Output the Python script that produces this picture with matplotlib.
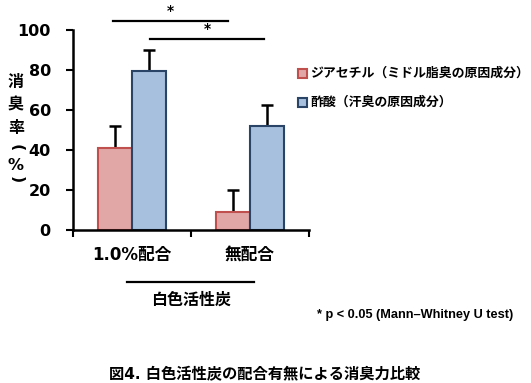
import numpy as np
import matplotlib
matplotlib.use("Agg")
import matplotlib.pyplot as plt
from matplotlib.patches import Rectangle

plt.rcParams['font.family'] = ['DejaVu Sans', 'Noto Sans CJK JP']
plt.rcParams['font.weight'] = 'bold'

categories = ['1.0%配合', '無配合']
series = ['ジアセチル（ミドル脂臭の原因成分）', '酢酸（汗臭の原因成分）']
means = [[41, 9], [79.5, 52]]
errors = [[11, 11], [10.5, 10.5]]
yticks = [0, 20, 40, 60, 80, 100]
ylabel_chars = ['消', '臭', '率', '(', '%', ')']
group_label = '白色活性炭'
note = '* p < 0.05 (Mann–Whitney U test)'
title = '図4. 白色活性炭の配合有無による消臭力比較'

fills = ['#E0A7A6', '#A7C0DE']
edges = ['#C0504D', '#2A4468']

fig = plt.figure(figsize=(5.31, 3.83), dpi=100)
ax = fig.add_axes([0.1375, 0.3995, 0.4444, 0.522])

x = np.arange(len(categories))
w = 0.29
for i in range(2):
    off = (i - 0.5) * w
    ax.bar(x + off, means[i], w, color=fills[i], edgecolor=edges[i], linewidth=1.5, zorder=2)
    ax.errorbar(x + off, means[i], yerr=[[0, 0], errors[i]], fmt='none', ecolor='black',
                elinewidth=1.8, capsize=4, capthick=1.8, zorder=1)

ax.set_xlim(-0.5, 1.5)
ax.set_ylim(0, 100)
ax.set_yticks(yticks)
ax.tick_params(axis='y', labelsize=11.5, width=1.5, length=5, pad=11, direction='out')
ax.set_xticks([-0.5, 0.5, 1.5])
ax.set_xticklabels([])
ax.tick_params(axis='x', width=1.5, length=5, direction='out')
for s in ['top', 'right']:
    ax.spines[s].set_visible(False)
for s in ['left', 'bottom']:
    ax.spines[s].set_linewidth(1.8)
for lab in ax.get_yticklabels():
    lab.set_fontweight('bold')

for xi, c in zip(x, categories):
    ax.text(xi, -12.5, c, ha='center', va='center', fontsize=12, fontweight='bold')

# significance bars
sig = [(-0.16, 0.81, 104.5), (0.15, 1.12, 95.5)]
for x0, x1, yy in sig:
    ax.plot([x0, x1], [yy, yy], color='black', lw=1.6, clip_on=False)
    ax.text((x0 + x1) / 2, yy + 1.5, '*', ha='center', va='bottom', fontsize=10, fontweight='bold')

# group label under categories
ax.plot([-0.04, 1.03], [-26, -26], color='black', lw=1.6, clip_on=False)
ax.text(0.5, -35, group_label, ha='center', va='center', fontsize=11.5, fontweight='bold')

# y label, vertical writing (brackets turned for vertical text)
ypix = [82, 105, 128, 148, 166, 180]
for ch, yp in zip(ylabel_chars, ypix):
    rot = -90 if ch in '()' else 0
    fig.text(16 / 531, 1 - yp / 383, ch, ha='center', va='center', rotation=rot,
             rotation_mode='anchor', fontsize=11.5, fontweight='bold')

# legend
for i, lbl in enumerate(series):
    yy = 1 - (73 + i * 29) / 383
    fig.patches.append(Rectangle((298 / 531, yy - 4.5 / 383), 9 / 531, 9 / 383,
                                 transform=fig.transFigure, facecolor=fills[i],
                                 edgecolor=edges[i], linewidth=1.5))
    fig.text(310 / 531, yy, lbl, ha='left', va='center', fontsize=9.3, fontweight='bold')

fig.text(513 / 531, 1 - 315 / 383, note, ha='right', va='center', fontsize=9.2,
         fontweight='bold', family=['Liberation Sans', 'DejaVu Sans'])
fig.text(265 / 531, 1 - 375 / 383, title, ha='center', va='center', fontsize=11,
         fontweight='bold')

fig.savefig('out.png', dpi=100)
